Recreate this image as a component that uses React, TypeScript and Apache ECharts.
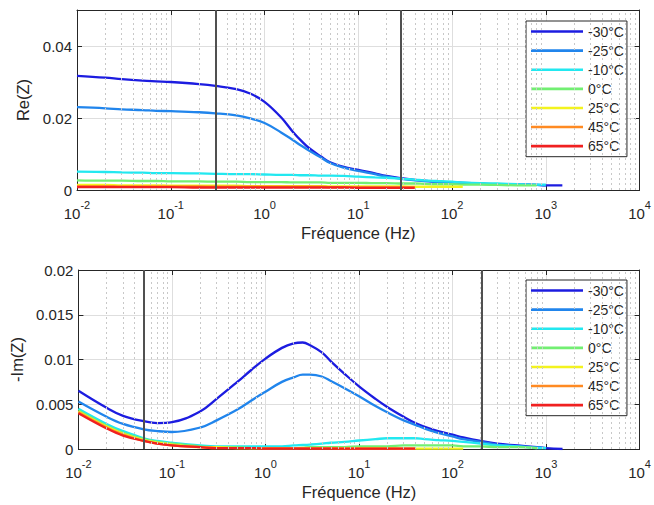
import React, { useEffect, useRef } from "react";
import * as echarts from "echarts";

// Frequencies (Hz) shared by all curves
const FREQ = [0.01, 0.02, 0.03, 0.05, 0.07, 0.1, 0.2, 0.3, 0.5, 0.7, 1, 1.5, 2, 2.5, 3, 4, 5, 7, 10, 15, 20, 30, 40, 50, 70, 100, 130, 200, 300, 500, 800, 1000, 1500];

const LABELS = ["-30°C", "-25°C", "-10°C", "0°C", "25°C", "45°C", "65°C"];
const COLORS = ["#1c1ce0", "#2185ec", "#22e8f0", "#72ef72", "#f3f31e", "#ff8a22", "#f02020"];

// Re(Z)
const RE_M30 = [0.0317, 0.0312, 0.0308, 0.0304, 0.0302, 0.03, 0.0294, 0.0289, 0.028, 0.0268, 0.0245, 0.0202, 0.0162, 0.0135, 0.0116, 0.0093, 0.0077, 0.0064, 0.0056, 0.0046, 0.0039, 0.0032, 0.0028, 0.0026, 0.0023, 0.0021, 0.002, 0.0018, 0.0016, 0.0015, 0.0014, 0.0013, 0.0013];
const RE_M25 = [0.023, 0.0227, 0.0224, 0.0222, 0.022, 0.0219, 0.0216, 0.0213, 0.0207, 0.0199, 0.0186, 0.016, 0.0139, 0.0122, 0.0109, 0.009, 0.0075, 0.0062, 0.0053, 0.0044, 0.0037, 0.003, 0.0027, 0.0025, 0.0022, 0.002, 0.0019, 0.0017, 0.0016, 0.0015, 0.0014, 0.0013];
const RE_M10 = [0.0051, 0.005, 0.0049, 0.0048, 0.0047, 0.0047, 0.0046, 0.0045, 0.0044, 0.0044, 0.0043, 0.0042, 0.0042, 0.0041, 0.0041, 0.004, 0.004, 0.0039, 0.0037, 0.0035, 0.0034, 0.0031, 0.0029, 0.0027, 0.0025, 0.0023, 0.0021, 0.0019, 0.0018, 0.0016, 0.0015, 0.0015];
const RE_0 = [0.0027, 0.0026, 0.0026, 0.0025, 0.0025, 0.0024, 0.0024, 0.0023, 0.0023, 0.0022, 0.0022, 0.0022, 0.0021, 0.0021, 0.0021, 0.0021, 0.002, 0.002, 0.002, 0.0019, 0.0019, 0.0018, 0.0018, 0.0017, 0.0016, 0.0016, 0.0015, 0.0015, 0.0014, 0.0013, 0.0013];
const RE_25 = [0.0014, 0.0014, 0.0013, 0.0013, 0.0013, 0.0012, 0.0012, 0.0012, 0.0012, 0.0011, 0.0011, 0.0011, 0.0011, 0.0011, 0.0011, 0.0011, 0.001, 0.001, 0.001, 0.001, 0.001, 0.001, 0.0009, 0.0009, 0.0009, 0.0009, 0.0009];
const RE_45 = [0.0011, 0.0011, 0.001, 0.001, 0.001, 0.001, 0.001, 0.0009, 0.0009, 0.0009, 0.0009, 0.0009, 0.0009, 0.0009, 0.0009, 0.0009, 0.0008, 0.0008, 0.0008, 0.0008, 0.0008, 0.0008, 0.0008];
const RE_65 = [0.0008, 0.0008, 0.0008, 0.0008, 0.0008, 0.0008, 0.0007, 0.0007, 0.0007, 0.0007, 0.0007, 0.0007, 0.0007, 0.0007, 0.0007, 0.0007, 0.0007, 0.0007, 0.0006, 0.0006, 0.0006, 0.0006, 0.0006];

// -Im(Z)
const IM_M30 = [0.0065, 0.0046, 0.0037, 0.0031, 0.0029, 0.003, 0.0042, 0.0056, 0.0075, 0.0088, 0.0101, 0.0113, 0.0118, 0.0119, 0.0116, 0.0108, 0.0098, 0.0084, 0.007, 0.0056, 0.0047, 0.0036, 0.0029, 0.0025, 0.002, 0.0016, 0.0013, 0.0009, 0.0006, 0.0004, 0.0002, 0.0001, 0.0];
const IM_M25 = [0.0053, 0.0036, 0.0028, 0.0022, 0.002, 0.0019, 0.0024, 0.0032, 0.0044, 0.0054, 0.0064, 0.0075, 0.008, 0.0083, 0.0083, 0.0081, 0.0076, 0.0068, 0.0059, 0.0048, 0.0041, 0.0032, 0.0027, 0.0023, 0.0018, 0.0014, 0.0011, 0.0008, 0.0005, 0.0003, 0.0002, 0.0001];
const IM_M10 = [0.0045, 0.0028, 0.002, 0.0012, 0.0009, 0.0007, 0.0004, 0.0003, 0.0003, 0.0003, 0.0003, 0.0003, 0.0004, 0.00045, 0.0005, 0.0006, 0.0007, 0.0008, 0.00095, 0.0011, 0.0012, 0.0012, 0.0012, 0.0011, 0.001, 0.0009, 0.0008, 0.0006, 0.0004, 0.0003, 0.0001, 0.0001];
const IM_0 = [0.0043, 0.0026, 0.0018, 0.0011, 0.0008, 0.0006, 0.0003, 0.0002, 0.0002, 0.0001, 0.0001, 0.0001, 0.0001, 0.00015, 0.0002, 0.0002, 0.0002, 0.0002, 0.0003, 0.0003, 0.0003, 0.0004, 0.0004, 0.0004, 0.0004, 0.0004, 0.0003, 0.0003, 0.0002, 0.0002, 0.0001];
const IM_25 = [0.0042, 0.0025, 0.0017, 0.001, 0.0007, 0.0005, 0.0002, 0.0002, 0.0001, 0.0001, 0.0001, 0.0001, 0.0001, 0.0001, 0.0001, 0.0001, 0.0001, 0.0001, 0.0001, 0.0001, 0.0001, 0.00005, 0.00005, 0.00005, 0.00005, 0.00005, 0.00005];
const IM_45 = [0.0041, 0.0024, 0.0016, 0.0009, 0.0006, 0.0004, 0.0002, 0.0001, 0.0001, 0.0001, 0.0001, 0.0001, 0.0001, 0.0001, 0.0001, 0.0001, 0.0001, 0.00005, 0.00005, 0.00005, 0.00005, 0.00005, 0.00005];
const IM_65 = [0.004, 0.0023, 0.0015, 0.0009, 0.0006, 0.0004, 0.0002, 0.0001, 0.0001, 0.0001, 0.00005, 0.00005, 0.00005, 0.00005, 0.00005, 0.00005, 0.00005, 0.00005, 0.00005, 0.00005, 0.00005, 0.00005, 0.00005];

const RE_SERIES = [RE_M30, RE_M25, RE_M10, RE_0, RE_25, RE_45, RE_65];
const IM_SERIES = [IM_M30, IM_M25, IM_M10, IM_0, IM_25, IM_45, IM_65];

// Marker frequencies (vertical lines)
const RE_MARKERS = [0.3, 28.5];
const IM_MARKERS = [0.048, 205];

// Minor grid positions: 2..9 within each decade
const DECADES = [0.01, 0.1, 1, 10, 100, 1000];
const MINOR_MULT = [2, 3, 4, 5, 6, 7, 8, 9];

const FONT = "'Liberation Sans', Arial, Helvetica, sans-serif";
const TXT = "#262626";
const AX = "#262626";

export default function App() {
  const ref = useRef<HTMLDivElement>(null);

  useEffect(() => {
    if (!ref.current) return;
    const chart = echarts.init(ref.current, undefined, { renderer: "svg" });

    const minor: number[] = [];
    DECADES.forEach((d) => MINOR_MULT.forEach((m) => minor.push(+(d * m).toPrecision(3))));

    const xAxisBottom = (g: number) => ({
      type: "log",
      gridIndex: g,
      logBase: 10,
      min: 0.01,
      max: 10000,
      splitNumber: 6,
      position: "bottom",
      axisLine: { show: true, onZero: false, lineStyle: { color: AX, width: 1 } },
      axisTick: { show: true, inside: true, length: 5, lineStyle: { color: AX } },
      axisLabel: {
        margin: 9,
        color: TXT,
        fontFamily: FONT,
        formatter: (v: number) => `{b|10}{s|${Math.round(Math.log10(v))}}`,
        rich: {
          b: { fontSize: 15, lineHeight: 22, verticalAlign: "bottom", color: TXT, fontFamily: FONT },
          s: { fontSize: 11, lineHeight: 8, verticalAlign: "top", color: TXT, fontFamily: FONT },
        },
      },
      splitLine: { show: true, lineStyle: { color: "#dedede", width: 1 } },
      name: "Fréquence (Hz)",
      nameLocation: "middle",
      nameGap: 34,
      nameTextStyle: { fontSize: 16.5, color: TXT, fontFamily: FONT },
    });
    const xAxisTop = (g: number) => ({
      type: "log",
      gridIndex: g,
      logBase: 10,
      min: 0.01,
      max: 10000,
      splitNumber: 6,
      position: "top",
      axisLine: { show: true, onZero: false, lineStyle: { color: AX, width: 1 } },
      axisTick: { show: true, inside: true, length: 5, lineStyle: { color: AX } },
      axisLabel: { show: false },
      splitLine: { show: false },
    });
    const yAxisLeft = (g: number, max: number, interval: number, name: string, gap: number) => ({
      type: "value",
      gridIndex: g,
      min: 0,
      max,
      interval,
      position: "left",
      axisLine: { show: true, onZero: false, lineStyle: { color: AX, width: 1 } },
      axisTick: { show: true, inside: true, length: 5, lineStyle: { color: AX } },
      axisLabel: {
        margin: 5,
        fontSize: 15,
        color: TXT,
        fontFamily: FONT,
        formatter: (v: number) => (v > max - 1e-9 && max === 0.05 ? "" : String(+v.toFixed(4))),
      },
      splitLine: { show: true, lineStyle: { color: "#dedede", width: 1 } },
      name,
      nameLocation: "middle",
      nameGap: gap,
      nameTextStyle: { fontSize: 16.5, color: TXT, fontFamily: FONT },
    });
    const yAxisRight = (g: number, max: number, interval: number) => ({
      type: "value",
      gridIndex: g,
      min: 0,
      max,
      interval,
      position: "right",
      axisLine: { show: true, onZero: false, lineStyle: { color: AX, width: 1 } },
      axisTick: { show: true, inside: true, length: 5, lineStyle: { color: AX } },
      axisLabel: { show: false },
      splitLine: { show: false },
    });

    const series: any[] = [];
    const panel = (g: number, arrs: number[][], markers: number[]) => {
      const xi = g * 2;
      const yi = g * 2;
      series.push({
        type: "line",
        name: "minor-grid-" + g,
        xAxisIndex: xi,
        yAxisIndex: yi,
        data: [],
        silent: true,
        z: 1,
        markLine: {
          silent: true,
          symbol: "none",
          label: { show: false },
          lineStyle: { color: "#c8c8c8", width: 1, type: [2, 3] },
          emphasis: { disabled: true },
          data: minor.map((f) => ({ xAxis: f })),
        },
      });
      arrs.forEach((vals, i) => {
        series.push({
          type: "line",
          name: LABELS[i],
          xAxisIndex: xi,
          yAxisIndex: yi,
          data: vals.map((v, k) => [FREQ[k], v]),
          symbol: "none",
          showSymbol: false,
          smooth: 0.4,
          lineStyle: { color: COLORS[i], width: 2.3 },
          itemStyle: { color: COLORS[i] },
          z: 3,
        });
      });
      series.push({
        type: "line",
        name: "markers-" + g,
        xAxisIndex: xi,
        yAxisIndex: yi,
        data: [],
        silent: true,
        z: 5,
        markLine: {
          silent: true,
          symbol: "none",
          label: { show: false },
          lineStyle: { color: "#505050", width: 2, type: "solid" },
          emphasis: { disabled: true },
          data: markers.map((f) => ({ xAxis: f })),
        },
      });
    };
    panel(0, RE_SERIES, RE_MARKERS);
    panel(1, IM_SERIES, IM_MARKERS);

    const legend = (top: number) => ({
      orient: "vertical",
      left: 526,
      top,
      data: LABELS.map((n, i) => ({ name: n, icon: "rect", itemStyle: { color: COLORS[i] } })),
      itemWidth: 52,
      itemHeight: 2.6,
      itemGap: 0,
      padding: [1, 3, 1, 5],
      borderColor: AX,
      borderWidth: 1,
      backgroundColor: "#ffffff",
      selectedMode: false,
      textStyle: { fontSize: 14, lineHeight: 19.1, color: TXT, fontFamily: FONT },
    });

    chart.setOption({
      animation: false,
      backgroundColor: "#ffffff",
      grid: [
        { left: 77, top: 10, width: 565, height: 180, containLabel: false },
        { left: 77, top: 270, width: 565, height: 179, containLabel: false },
      ],
      xAxis: [xAxisBottom(0), xAxisTop(0), xAxisBottom(1), xAxisTop(1)],
      yAxis: [
        yAxisLeft(0, 0.05, 0.02, "Re(Z)", 40),
        yAxisRight(0, 0.05, 0.02),
        yAxisLeft(1, 0.02, 0.005, "-Im(Z)", 46),
        yAxisRight(1, 0.02, 0.005),
      ],
      legend: [legend(21), legend(280)],
      series,
    });

    return () => chart.dispose();
  }, []);

  return (
    <div
      ref={ref}
      style={{ position: "fixed", left: 0, top: 0, width: 654, height: 505, background: "#fff" }}
    />
  );
}
